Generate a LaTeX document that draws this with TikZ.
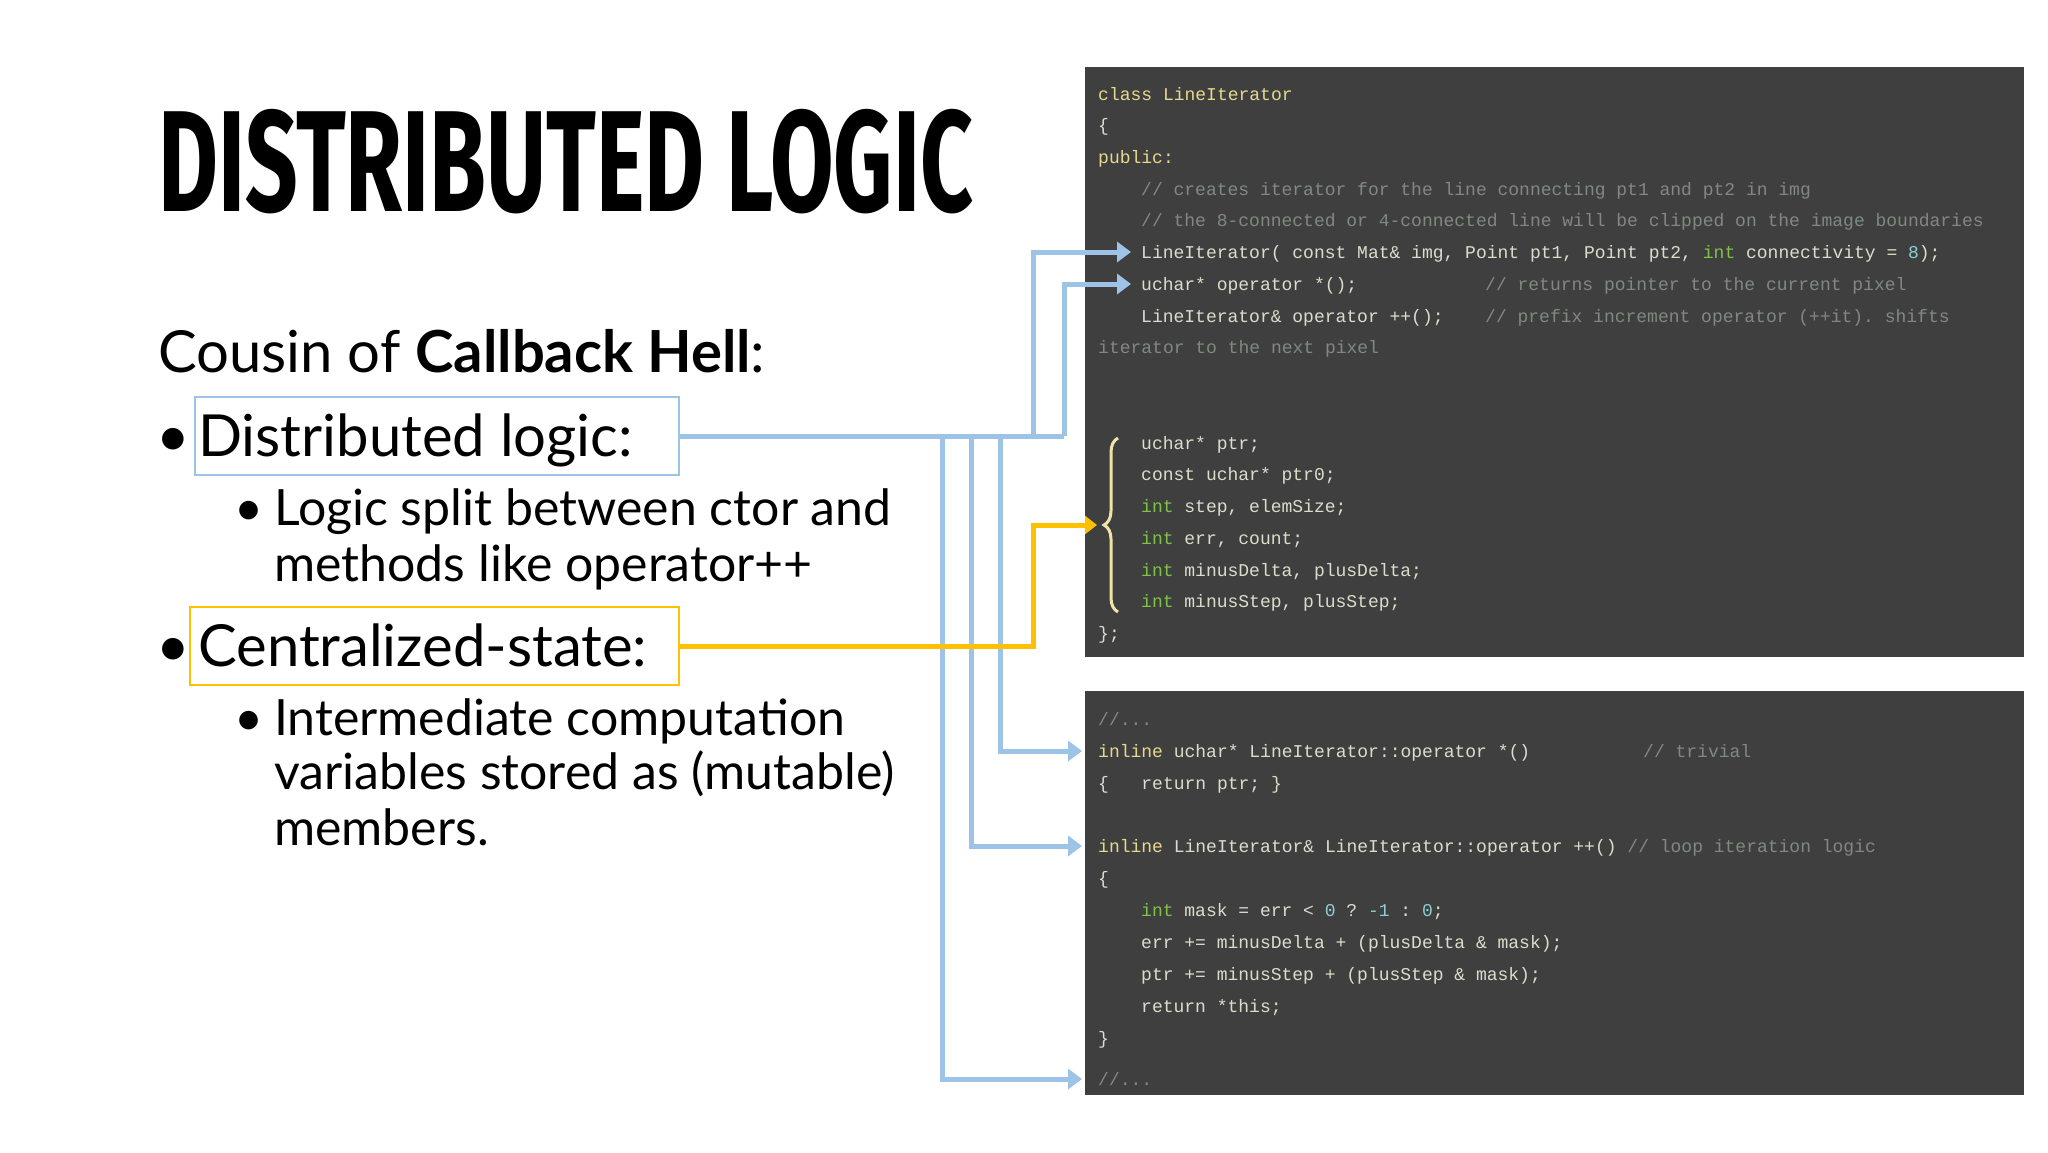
\documentclass[tikz,border=0pt]{standalone}
\usepackage{fontspec}
\usetikzlibrary{arrows.meta,decorations.pathreplacing}
\setmainfont{Lato}
\setmonofont{Liberation Mono}
\newfontfamily\titlefont{Fira Sans}
\definecolor{panel}{HTML}{3F3F3F}
\definecolor{codetxt}{HTML}{DCDCCC}
\definecolor{cmt}{HTML}{7F8A7F}
\definecolor{kwg}{HTML}{7FC24A}
\definecolor{numb}{HTML}{8CD0D3}
\definecolor{ylw}{HTML}{E6D88E}
\definecolor{bluel}{HTML}{9DC3E6}
\definecolor{gold}{HTML}{FFC000}
\definecolor{bracec}{HTML}{F0E3A8}
\newcommand{\cm}[1]{\textcolor{cmt}{#1}}
\newcommand{\kw}[1]{\textcolor{kwg}{#1}}
\newcommand{\nm}[1]{\textcolor{numb}{#1}}
\newcommand{\yl}[1]{\textcolor{ylw}{#1}}
\tikzset{
  code/.style={anchor=base west, inner sep=0pt, text=codetxt, font=\ttfamily\fontsize{18}{18}\selectfont},
  body/.style={anchor=base west, inner sep=0pt, font=\fontsize{58}{58}\selectfont},
  sub/.style={anchor=base west, inner sep=0pt, font=\fontsize{50}{50}\selectfont},
  bl/.style={draw=bluel, line width=5pt},
  blarr/.style={bl, -{Triangle[length=14pt,width=20pt]}},
  yarr/.style={draw=gold, line width=5pt, -{Triangle[length=12pt,width=18pt]}},
}
\begin{document}
\begin{tikzpicture}[x=1pt,y=-1pt]
\useasboundingbox[fill=white] (0,0) rectangle (2048,1152);
% title
\node[anchor=base west, inner sep=0pt] (title) at (158,211) {\resizebox{815pt}{\height}{\titlefont\bfseries\fontsize{144}{144}\selectfont DISTRIBUTED LOGIC}};
% body
\node[body] (cousin) at (158,372) {Cousin of \textbf{Callback Hell}:};
\node[body] (b1) at (156,456) {•};
\node[draw=bluel, line width=1.5pt, minimum width=484pt, minimum height=78pt, anchor=west, inner sep=0pt] (dl) at (194,436) {};
\node[body] (dltxt) at (198,456) {Distributed logic:};
\node[sub] (s1) at (234,525) {•};
\node[sub] (s1a) at (274,525) {Logic split between ctor and};
\node[sub] (s1b) at (274,581) {methods like operator++};
\node[body] (b2) at (156,666) {•};
\node[draw=gold, line width=1.5pt, minimum width=489pt, minimum height=78pt, anchor=west, inner sep=0pt] (cs) at (189,646) {};
\node[body] (cstxt) at (198,666) {Centralized-state:};
\node[sub] (s2) at (234,735) {•};
\node[sub] (s2a) at (274,735) {Intermediate computation};
\node[sub] (s2b) at (274,789) {variables stored as (mutable)};
\node[sub] (s2c) at (274,845) {members.};
% panels
\fill[panel] (1085,67) rectangle (2024,657);
\fill[panel] (1085,691) rectangle (2024,1095);
% top code
\def\L{1098}\def\I{1141}
\node[code] (t0) at (\L,100) {\yl{class LineIterator}};
\node[code] (t1) at (\L,131.5) {\{};
\node[code] (t2) at (\L,163.2) {\yl{public:}};
\node[code] (t3) at (\I,195) {\cm{// creates iterator for the line connecting pt1 and pt2 in img}};
\node[code] (t4) at (\I,226.7) {\cm{// the 8-connected or 4-connected line will be clipped on the image boundaries}};
\node[code] (t5) at (\I,258.5) {LineIterator( const Mat\& img, Point pt1, Point pt2, \kw{int} connectivity = \nm{8});};
\node[code] (t6) at (\I,290.3) {uchar* operator *();};
\node[code] (t6c) at (1485,290.3) {\cm{// returns pointer to the current pixel}};
\node[code] (t7) at (\I,322) {LineIterator\& operator ++();};
\node[code] (t7c) at (1485,322) {\cm{// prefix increment operator (++it). shifts}};
\node[code] (t8) at (\L,353.8) {\cm{iterator to the next pixel}};
\node[code] (t11) at (\I,449) {uchar* ptr;};
\node[code] (t12) at (\I,480.8) {const uchar* ptr0;};
\node[code] (t13) at (\I,512.6) {\kw{int} step, elemSize;};
\node[code] (t14) at (\I,544.3) {\kw{int} err, count;};
\node[code] (t15) at (\I,576) {\kw{int} minusDelta, plusDelta;};
\node[code] (t16) at (\I,607.8) {\kw{int} minusStep, plusStep;};
\node[code] (t17) at (\L,639.6) {\};};
% bottom code
\node[code] (u0) at (\L,725) {\cm{//...}};
\node[code] (u1) at (\L,757) {\yl{inline} uchar* LineIterator::operator *()};
\node[code] (u1c) at (1643,757) {\cm{// trivial}};
\node[code] (u2) at (\L,789) {\{\ \ \ return ptr; \}};
\node[code] (u4) at (\L,852) {\yl{inline} LineIterator\& LineIterator::operator ++() \cm{// loop iteration logic}};
\node[code] (u5) at (\L,884) {\{};
\node[code] (u6) at (\I,916) {\kw{int} mask = err < \nm{0} ? \nm{-1} : \nm{0};};
\node[code] (u7) at (\I,948) {err += minusDelta + (plusDelta \& mask);};
\node[code] (u8) at (\I,980) {ptr += minusStep + (plusStep \& mask);};
\node[code] (u9) at (\I,1012) {return *this;};
\node[code] (u10) at (\L,1044) {\}};
\node[code] (u11) at (\L,1085) {\cm{//...}};
% brace
\draw[bracec, line width=3pt, decorate, decoration={brace, amplitude=14pt}] (1118,612) -- (1118,438);
% arrow targets
\coordinate (a1) at (1131,252);
\coordinate (a2) at (1131,284);
\coordinate (c1) at (1082,751);
\coordinate (c2) at (1082,846);
\coordinate (c3) at (1082,1079);
\coordinate (ybr) at (1097,525);
% blue connectors
\draw[bl] (dl.east) -- (1064,436);
\draw[blarr] (1064,436) -- (1064,284) -- (a2);
\draw[blarr] (1033,436) -- (1033,252) -- (a1);
\draw[blarr] (1000,436) -- (1000,751) -- (c1);
\draw[blarr] (971,436) -- (971,846) -- (c2);
\draw[blarr] (942,436) -- (942,1079) -- (c3);
% yellow connector
\draw[yarr] (cs.east) -- (1033,646) -- (1033,525) -- (ybr);
\end{tikzpicture}
\end{document}
